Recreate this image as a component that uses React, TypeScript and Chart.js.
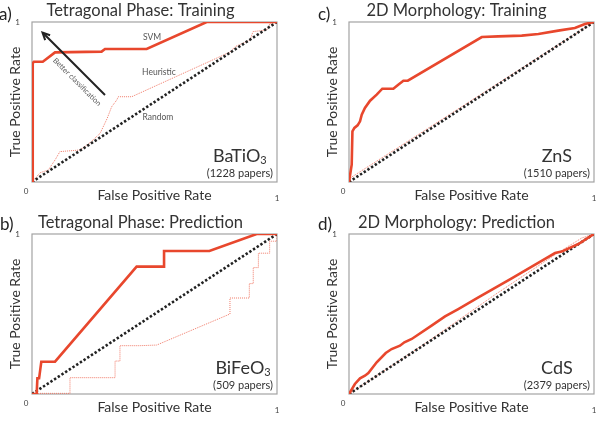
import React, { useEffect, useRef } from "react";
import { Chart, registerables } from "chart.js";
Chart.register(...registerables);

const FONT = "Lato, 'Open Sans', sans-serif";
const TEXT = "#333333";

// ---------- Data ----------
// a) Tetragonal Phase: Training (BaTiO3)
const aSvmX = [0, 0.003, 0.008, 0.044, 0.094, 0.284, 0.298, 0.468, 0.713, 1];
const aSvmY = [0, 0.742, 0.752, 0.752, 0.81, 0.815, 0.831, 0.831, 1, 1];
const aHeurX = [0, 0.033, 0.067, 0.08, 0.094, 0.114, 0.196, 0.237, 0.278, 0.307, 0.325, 0.346, 0.352, 0.407, 0.808, 0.829, 0.89, 0.902, 0.958, 0.971, 1];
const aHeurY = [0, 0.058, 0.075, 0.106, 0.1375, 0.19, 0.2, 0.246, 0.304, 0.398, 0.47, 0.5125, 0.533, 0.533, 0.812, 0.846, 0.887, 0.94, 0.95, 0.99, 1];

// b) Tetragonal Phase: Prediction (BiFeO3)
const bSvmX = [0, 0.019, 0.022, 0.029, 0.038, 0.094, 0.427, 0.539, 0.539, 0.724, 0.917, 1];
const bSvmY = [0, 0, 0.098, 0.098, 0.202, 0.202, 0.796, 0.796, 0.894, 0.894, 1, 1];
const bHeurX = [0, 0.02, 0.155, 0.155, 0.339, 0.339, 0.359, 0.359, 0.441, 0.509, 0.808, 0.808, 0.887, 0.887, 0.903, 0.903, 0.924, 0.924, 0.97, 0.97, 1, 1];
const bHeurY = [0, 0.004, 0.004, 0.102, 0.102, 0.206, 0.206, 0.302, 0.302, 0.306, 0.5, 0.6, 0.6, 0.69, 0.69, 0.79, 0.79, 0.88, 0.88, 0.955, 0.955, 1];

// c) 2D Morphology: Training (ZnS)
const cSvmX = [0, 0.011, 0.014, 0.022, 0.035, 0.045, 0.052, 0.065, 0.086, 0.113, 0.136, 0.181, 0.201, 0.222, 0.24, 0.542, 0.609, 0.705, 0.773, 0.854, 0.922, 0.963, 1];
const cSvmY = [0, 0.108, 0.317, 0.338, 0.354, 0.379, 0.421, 0.4625, 0.508, 0.546, 0.583, 0.583, 0.608, 0.633, 0.633, 0.906, 0.91, 0.915, 0.925, 0.946, 0.963, 0.988, 1];
const cHeurX = [0, 0.01, 0.2, 0.5, 0.8, 1];
const cHeurY = [0, 0.03, 0.215, 0.51, 0.805, 1];

// d) 2D Morphology: Prediction (CdS)
const dSvmX = [0, 0.024, 0.045, 0.065, 0.079, 0.113, 0.15, 0.174, 0.208, 0.226, 0.256, 0.337, 0.392, 0.446, 0.528, 0.664, 0.8, 0.841, 0.868, 0.936, 1];
const dSvmY = [0, 0.0625, 0.098, 0.114, 0.131, 0.198, 0.256, 0.281, 0.302, 0.323, 0.344, 0.427, 0.485, 0.531, 0.604, 0.723, 0.844, 0.881, 0.89, 0.9375, 1];
const dHeurX = [0, 0.3, 0.6, 0.85, 0.95, 1];
const dHeurY = [0, 0.305, 0.625, 0.88, 0.975, 1];

const randX = [0, 1];
const randY = [0, 1];

const titles = ["Tetragonal Phase: Training", "Tetragonal Phase: Prediction", "2D Morphology: Training", "2D Morphology: Prediction"];
const letters = ["a)", "b)", "c)", "d)"];
const formulas = ["BaTiO", "BiFeO", "ZnS", "CdS"];
const formulaSubs = ["3", "3", "", ""];
const paperCounts = ["(1228 papers)", "(509 papers)", "(1510 papers)", "(2379 papers)"];
const xTitle = "False Positive Rate";
const yTitle = "True Positive Rate";
const noteLabels = ["SVM", "Heuristic", "Random", "Better classification"];

const pts = (xs: number[], ys: number[]) => xs.map((x, i) => ({ x, y: ys[i] }));

type PanelCfg = {
  idx: number;
  left: number; top: number; w: number; h: number;
  yAxisW: number; yTitlePad: number; padRight: number; padBottom: number;
  svm: { x: number; y: number }[];
  heur: { x: number; y: number }[];
  notes: boolean;
};

const panels: PanelCfg[] = [
  { idx: 0, left: 4, top: 0, w: 296, h: 210, yAxisW: 28, yTitlePad: 3.1, padRight: 23, padBottom: 6, svm: pts(aSvmX, aSvmY), heur: pts(aHeurX, aHeurY), notes: true },
  { idx: 1, left: 4, top: 212, w: 302, h: 210, yAxisW: 28, yTitlePad: 3.1, padRight: 29, padBottom: 6, svm: pts(bSvmX, bSvmY), heur: pts(bHeurX, bHeurY), notes: false },
  { idx: 2, left: 319, top: 0, w: 284, h: 210, yAxisW: 30, yTitlePad: 4.6, padRight: 9, padBottom: 6, svm: pts(cSvmX, cSvmY), heur: pts(cHeurX, cHeurY), notes: false },
  { idx: 3, left: 319, top: 212, w: 294, h: 210, yAxisW: 30, yTitlePad: 4.6, padRight: 19, padBottom: 6, svm: pts(dSvmX, dSvmY), heur: pts(dHeurX, dHeurY), notes: false },
];

function makeDeco(p: PanelCfg) {
  return {
    id: "deco" + p.idx,
    beforeDatasetsDraw(chart: any) {
      const { ctx, chartArea: a } = chart;
      ctx.save();
      ctx.strokeStyle = "#a3a3a3";
      ctx.lineWidth = 1.2;
      ctx.strokeRect(a.left, a.top, a.right - a.left, a.bottom - a.top);
      ctx.restore();
    },
    afterDraw(chart: any) {
      const { ctx, chartArea: a } = chart;
      const xs = chart.scales.x;
      const ys = chart.scales.y;
      ctx.save();
      // shared origin label
      ctx.fillStyle = "#444";
      ctx.font = `8px ${FONT}`;
      ctx.textAlign = "center";
      ctx.textBaseline = "middle";
      ctx.fillText("0", a.left - 6, a.bottom + 9);

      // papers + formula
      ctx.font = `11px ${FONT}`;
      ctx.fillStyle = TEXT;
      const paper = paperCounts[p.idx];
      const pw = ctx.measureText(paper).width;
      const pr = a.right - 4;
      ctx.textAlign = "right";
      ctx.fillText(paper, pr, a.bottom - 9);
      const cx = pr - pw / 2;
      const main = formulas[p.idx];
      const sub = formulaSubs[p.idx];
      ctx.font = `18px ${FONT}`;
      const mw = ctx.measureText(main).width;
      ctx.font = `11px ${FONT}`;
      const sw = sub ? ctx.measureText(sub).width : 0;
      const x0 = cx - (mw + sw) / 2;
      ctx.textAlign = "left";
      ctx.textBaseline = "alphabetic";
      ctx.font = `18px ${FONT}`;
      ctx.fillText(main, x0, a.bottom - 20);
      if (sub) {
        ctx.font = `11px ${FONT}`;
        ctx.fillText(sub, x0 + mw, a.bottom - 18);
      }

      if (p.notes) {
        ctx.fillStyle = "#555";
        ctx.font = `8.5px ${FONT}`;
        ctx.textAlign = "center";
        ctx.textBaseline = "middle";
        ctx.fillText(noteLabels[0], xs.getPixelForValue(0.49), ys.getPixelForValue(0.906));
        ctx.fillText(noteLabels[1], xs.getPixelForValue(0.518), ys.getPixelForValue(0.6875));
        ctx.fillText(noteLabels[2], xs.getPixelForValue(0.514), ys.getPixelForValue(0.406));
        // arrow
        const x1 = xs.getPixelForValue(0.298), y1 = ys.getPixelForValue(0.544);
        const x2 = xs.getPixelForValue(0.043), y2 = ys.getPixelForValue(0.934);
        ctx.strokeStyle = "#222";
        ctx.lineWidth = 2;
        ctx.beginPath();
        ctx.moveTo(x1, y1);
        ctx.lineTo(x2, y2);
        ctx.stroke();
        const ang = Math.atan2(y2 - y1, x2 - x1);
        const hl = 8;
        ctx.beginPath();
        ctx.moveTo(x2 - hl * Math.cos(ang - 0.45), y2 - hl * Math.sin(ang - 0.45));
        ctx.lineTo(x2, y2);
        ctx.lineTo(x2 - hl * Math.cos(ang + 0.45), y2 - hl * Math.sin(ang + 0.45));
        ctx.stroke();
        // rotated label
        ctx.save();
        ctx.translate(xs.getPixelForValue(0.184), ys.getPixelForValue(0.625));
        ctx.rotate(Math.PI / 4);
        ctx.font = `7.5px ${FONT}`;
        ctx.fillStyle = "#555";
        ctx.fillText(noteLabels[3], 0, 0);
        ctx.restore();
      }
      ctx.restore();
    },
  };
}

function Panel({ p }: { p: PanelCfg }) {
  const ref = useRef<HTMLCanvasElement>(null);
  useEffect(() => {
    const chart = new Chart(ref.current as HTMLCanvasElement, {
      type: "scatter",
      data: {
        datasets: [
          { label: "SVM", data: p.svm, showLine: true, borderColor: "#e8472d", borderWidth: 2.6, pointRadius: 0, order: 1, tension: 0 } as any,
          { label: "Random", data: pts(randX, randY), showLine: true, borderColor: "#222222", borderWidth: 2.6, borderDash: [2.4, 2], pointRadius: 0, order: 2 } as any,
          { label: "Heuristic", data: p.heur, showLine: true, borderColor: "#f07a68", borderWidth: 1, borderDash: [1, 1], pointRadius: 0, order: 3 } as any,
        ],
      },
      options: {
        animation: false,
        responsive: false,
        events: [],
        layout: { padding: { top: 0, left: 0, right: p.padRight, bottom: p.padBottom } },
        plugins: {
          legend: { display: false },
          tooltip: { enabled: false },
          title: {
            display: true,
            text: titles[p.idx],
            color: TEXT,
            font: { family: FONT, size: 16.5, weight: "normal" as any, lineHeight: 1.2 },
            padding: { top: 1.2, bottom: 1 },
          },
        },
        scales: {
          x: {
            type: "linear",
            min: 0,
            max: 1,
            grid: { display: false },
            border: { display: false },
            ticks: {
              stepSize: 1,
              padding: 4,
              color: "#444",
              font: { family: FONT, size: 8 },
              maxRotation: 0,
              callback: (v: any) => (v === 1 ? "1" : ""),
            },
            title: { display: true, text: xTitle, color: TEXT, font: { family: FONT, size: 14, lineHeight: 1.2 }, padding: { top: 0, bottom: 0 } },
            afterFit: (s: any) => { s.height = 22; },
          } as any,
          y: {
            type: "linear",
            min: 0,
            max: 1,
            grid: { display: false },
            border: { display: false },
            ticks: {
              stepSize: 1,
              padding: 4,
              color: "#444",
              font: { family: FONT, size: 8 },
              callback: (v: any) => (v === 1 ? "1" : ""),
            },
            title: { display: true, text: yTitle, color: TEXT, font: { family: FONT, size: 14, lineHeight: 1.2 }, padding: { top: p.yTitlePad, bottom: 0 } },
            afterFit: (s: any) => { s.width = p.yAxisW; },
          } as any,
        },
      },
      plugins: [makeDeco(p)],
    });
    return () => chart.destroy();
  }, [p]);
  return (
    <canvas
      ref={ref}
      width={p.w}
      height={p.h}
      style={{ position: "absolute", left: p.left, top: p.top, width: p.w, height: p.h }}
    />
  );
}

const letterPos = [
  { left: -1, top: 5 },
  { left: 0, top: 215 },
  { left: 318, top: 5 },
  { left: 318, top: 215 },
];

export default function App() {
  return (
    <div style={{ position: "fixed", left: 0, top: 0, width: 603, height: 422, overflow: "hidden", background: "#fff" }}>
      {panels.map((p) => (
        <Panel key={p.idx} p={p} />
      ))}
      {letters.map((l, i) => (
        <div
          key={l}
          style={{ position: "absolute", left: letterPos[i].left, top: letterPos[i].top, fontFamily: FONT, fontSize: 17, lineHeight: "17px", color: "#222" }}
        >
          {l}
        </div>
      ))}
    </div>
  );
}
